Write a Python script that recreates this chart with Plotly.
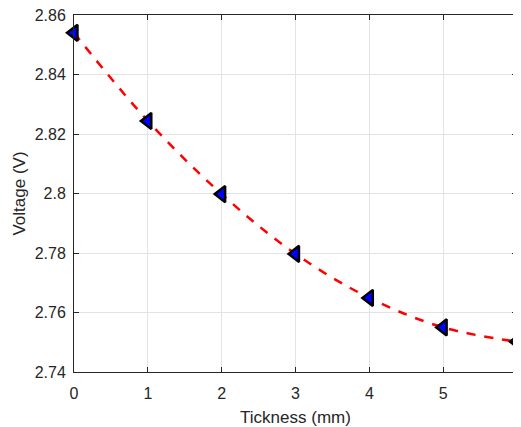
import plotly.graph_objects as go

thickness = [0, 1, 2, 3, 4, 5, 6]
voltage = [2.854, 2.8244, 2.7998, 2.7797, 2.7649, 2.7550, 2.7502]
x_ticks = [0, 1, 2, 3, 4, 5, 6]
x_labels = ["0", "1", "2", "3", "4", "5", "6"]
y_ticks = [2.74, 2.76, 2.78, 2.80, 2.82, 2.84, 2.86]
y_labels = ["2.74", "2.76", "2.78", "2.8", "2.82", "2.84", "2.86"]

FONT = "Liberation Sans, Arial, sans-serif"
INK = "#262626"

fig = go.Figure()
fig.add_trace(go.Scatter(
    x=thickness, y=voltage, mode="lines+markers",
    line=dict(color="red", width=2.5, dash="dash", shape="spline"),
    marker=dict(symbol="triangle-left", size=14, color="blue",
                line=dict(color="black", width=2.4)),
    cliponaxis=False,
))

axis_common = dict(
    showline=True, linecolor=INK, linewidth=1, mirror="ticks",
    ticks="inside", ticklen=5, tickcolor=INK,
    showgrid=True, gridcolor="#e3e3e3", gridwidth=1, zeroline=False,
    tickfont=dict(family=FONT, size=16, color=INK),
    ticklabeloverflow="allow", automargin=False,
)

# page body has an 8px default margin, so the figure is shifted by 8px
fig.update_layout(
    width=513, height=419,
    margin=dict(l=66, r=4, t=7, b=55),
    paper_bgcolor="white", plot_bgcolor="white",
    showlegend=False,
    xaxis=dict(range=[0, 6], tickvals=x_ticks, ticktext=x_labels,
               ticklabelstandoff=7,
               title=dict(text="Tickness (mm)", standoff=10,
                          font=dict(family=FONT, size=17, color=INK)),
               **axis_common),
    yaxis=dict(range=[2.74, 2.86], tickvals=y_ticks, ticktext=y_labels,
               ticklabelstandoff=4,
               title=dict(text="Voltage (V)", standoff=4,
                          font=dict(family=FONT, size=17, color=INK)),
               **axis_common),
)

# hide page scrollbars so the right edge of the chart is not covered
fig.write_html(
    "out.html",
    post_script="document.documentElement.style.overflow='hidden';"
                "document.body.style.overflow='hidden';",
)
